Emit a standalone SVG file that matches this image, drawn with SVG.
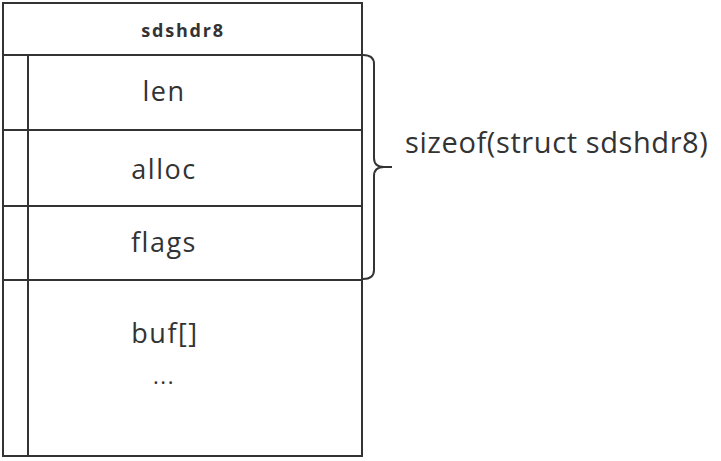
<svg xmlns="http://www.w3.org/2000/svg" width="721" height="461" viewBox="0 0 721 461">
<style>
.ln{fill:none;stroke:#333;stroke-width:2}
.t{font-family:"Open Sans","Noto Sans",sans-serif;fill:#333;font-size:27px;letter-spacing:1.5px;text-anchor:middle}
.h{font-family:"Open Sans","Noto Sans",sans-serif;fill:#333;font-size:18px;font-weight:bold;letter-spacing:1.8px;text-anchor:middle}
</style>
<rect width="721" height="461" fill="#fff"/>
<g id="header">
<rect class="ln" x="3" y="3" width="359" height="52"/>
<text class="h" x="183" y="37">sdshdr8</text>
</g>
<g id="len">
<rect class="ln" x="3" y="55" width="359" height="75"/>
<line class="ln" x1="28" y1="55" x2="28" y2="130"/>
<text class="t" x="164" y="101">len</text>
</g>
<g id="alloc">
<rect class="ln" x="3" y="130" width="359" height="76"/>
<line class="ln" x1="28" y1="130" x2="28" y2="206"/>
<text class="t" x="164" y="179">alloc</text>
</g>
<g id="flags">
<rect class="ln" x="3" y="206" width="359" height="74"/>
<line class="ln" x1="28" y1="206" x2="28" y2="280"/>
<text class="t" x="164" y="252">flags</text>
</g>
<g id="buf">
<rect class="ln" x="3" y="280" width="359" height="176"/>
<line class="ln" x1="28" y1="280" x2="28" y2="456"/>
<text class="t" x="165" y="343">buf[]</text>
<text class="t" x="164" y="384" style="font-size:22px">...</text>
</g>
<g id="brace">
<path class="ln" d="M363,55 Q374,55 374,64 L374,158 Q374,167 384,167 L392,167 M384,167 Q374,167 374,176 L374,270 Q374,279 363,279"/>
<text class="t" x="405" y="153" style="text-anchor:start;font-size:29px;letter-spacing:0.6px">sizeof(struct sdshdr8)</text>
</g>
</svg>
